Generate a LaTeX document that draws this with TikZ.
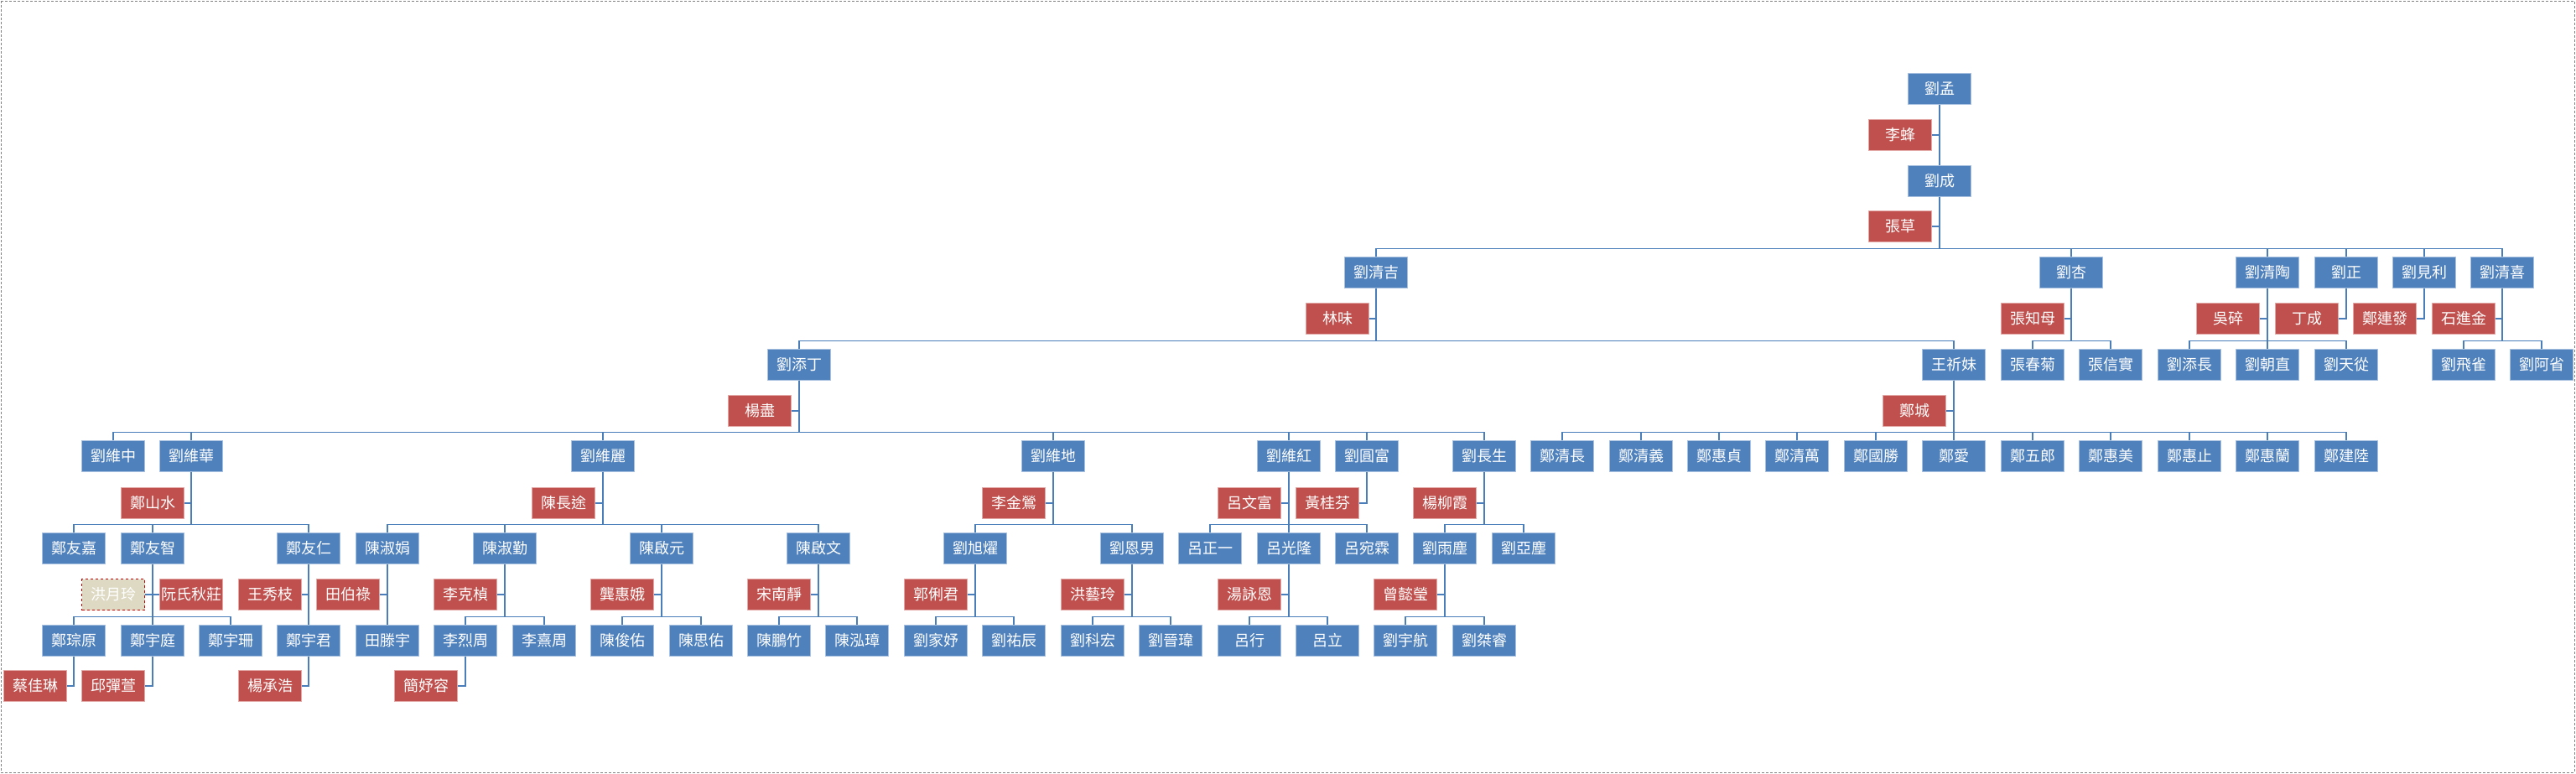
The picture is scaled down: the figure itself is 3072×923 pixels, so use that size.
\documentclass[tikz,border=0pt]{standalone}
\usepackage{fontspec}
\newfontfamily\cjk{Noto Sans CJK TC}
\definecolor{famblue}{HTML}{4F81BD}
\definecolor{famred}{HTML}{C0504D}
\definecolor{blueedge}{HTML}{A9C1E0}
\definecolor{rededge}{HTML}{E3A9A7}
\definecolor{linkblue}{HTML}{4A7EBB}
\definecolor{ghostfill}{HTML}{DDD9C3}
\definecolor{ghostedge}{HTML}{C00000}

\begin{document}
\begin{tikzpicture}[x=1pt,y=-1pt,
  person/.style={rectangle,fill=famblue,draw=blueedge,line width=0.8pt,text=white,
    minimum width=75pt,minimum height=37pt,inner sep=0pt,font=\cjk\fontsize{18}{18}\selectfont},
  spouse/.style={person,fill=famred,draw=rededge},
  ghost/.style={person,fill=ghostfill,draw=ghostedge,dashed,line width=1.6pt},
  link/.style={draw=linkblue,line width=1.6pt}]
\useasboundingbox (0,0) rectangle (3072,923);
\draw[gray,densely dashed] (1,1) rectangle (3070,921);

\node[person] (a) at (2313,106) {劉孟};
\node[spouse] (sa) at (2266,161) {李蜂};
\node[person] (b) at (2313,216) {劉成};
\node[spouse] (sb) at (2266,270) {張草};

\node[person] (c1) at (1641,325) {劉清吉};
\node[person] (c2) at (2470,325) {劉杏};
\node[person] (c3) at (2704,325) {劉清陶};
\node[person] (c4) at (2798,325) {劉正};
\node[person] (c5) at (2891,325) {劉見利};
\node[person] (c6) at (2984,325) {劉清喜};
\node[spouse] (sc1) at (1595,380) {林味};
\node[spouse] (sc2) at (2424,380) {張知母};
\node[spouse] (sc3) at (2657,380) {吳碎};
\node[spouse] (sc4) at (2751,380) {丁成};
\node[spouse] (sc5) at (2844,380) {鄭連發};
\node[spouse] (sc6) at (2938,380) {石進金};

\node[person] (d1) at (953,435) {劉添丁};
\node[person] (d2) at (2330,435) {王祈妹};
\node[person] (d3) at (2424,435) {張春菊};
\node[person] (d4) at (2517,435) {張信實};
\node[person] (d5) at (2611,435) {劉添長};
\node[person] (d6) at (2704,435) {劉朝直};
\node[person] (d7) at (2798,435) {劉天從};
\node[person] (d8) at (2938,435) {劉飛雀};
\node[person] (d9) at (3031,435) {劉阿省};
\node[spouse] (sd1) at (906,490) {楊盡};
\node[spouse] (sd2) at (2283,490) {鄭城};

\node[person] (e1) at (135,544) {劉維中};
\node[person] (e2) at (228,544) {劉維華};
\node[person] (e3) at (719,544) {劉維麗};
\node[person] (e4) at (1256,544) {劉維地};
\node[person] (e5) at (1537,544) {劉維紅};
\node[person] (e6) at (1630,544) {劉圓富};
\node[person] (e7) at (1770,544) {劉長生};
\node[person] (k1) at (1863,544) {鄭清長};
\node[person] (k2) at (1957,544) {鄭清義};
\node[person] (k3) at (2050,544) {鄭惠貞};
\node[person] (k4) at (2143,544) {鄭清萬};
\node[person] (k5) at (2237,544) {鄭國勝};
\node[person] (k6) at (2330,544) {鄭愛};
\node[person] (k7) at (2424,544) {鄭五郎};
\node[person] (k8) at (2517,544) {鄭惠美};
\node[person] (k9) at (2611,544) {鄭惠止};
\node[person] (k10) at (2704,544) {鄭惠蘭};
\node[person] (k11) at (2798,544) {鄭建陸};
\node[spouse] (se2) at (182,600) {鄭山水};
\node[spouse] (se3) at (672,600) {陳長途};
\node[spouse] (se4) at (1209,600) {李金鶯};
\node[spouse] (se5) at (1490,600) {呂文富};
\node[spouse] (se6) at (1583,600) {黃桂芬};
\node[spouse] (se7) at (1723,600) {楊柳霞};

\node[person] (f1) at (88,654) {鄭友嘉};
\node[person] (f2) at (182,654) {鄭友智};
\node[person] (f3) at (368,654) {鄭友仁};
\node[person] (f4) at (462,654) {陳淑娟};
\node[person] (f5) at (602,654) {陳淑勤};
\node[person] (f6) at (789,654) {陳啟元};
\node[person] (f7) at (976,654) {陳啟文};
\node[person] (f8) at (1163,654) {劉旭燿};
\node[person] (f9) at (1350,654) {劉恩男};
\node[person] (f10) at (1443,654) {呂正一};
\node[person] (f11) at (1537,654) {呂光隆};
\node[person] (f12) at (1630,654) {呂宛霖};
\node[person] (f13) at (1723,654) {劉雨塵};
\node[person] (f14) at (1817,654) {劉亞塵};
\node[ghost] (sf2) at (135,709) {洪月玲};
\node[spouse] (tf2) at (228,709) {阮氏秋莊};
\node[spouse] (sf3) at (322,709) {王秀枝};
\node[spouse] (sf4) at (415,709) {田伯祿};
\node[spouse] (sf5) at (555,709) {李克楨};
\node[spouse] (sf6) at (742,709) {龔惠娥};
\node[spouse] (sf7) at (929,709) {宋南靜};
\node[spouse] (sf8) at (1116,709) {郭俐君};
\node[spouse] (sf9) at (1303,709) {洪藝玲};
\node[spouse] (sf11) at (1490,709) {湯詠恩};
\node[spouse] (sf13) at (1676,709) {曾懿瑩};

\node[person] (g1) at (88,764) {鄭琮原};
\node[person] (g2) at (182,764) {鄭宇庭};
\node[person] (g3) at (275,764) {鄭宇珊};
\node[person] (g4) at (368,764) {鄭宇君};
\node[person] (g5) at (462,764) {田滕宇};
\node[person] (g6) at (555,764) {李烈周};
\node[person] (g7) at (649,764) {李熹周};
\node[person] (g8) at (742,764) {陳俊佑};
\node[person] (g9) at (836,764) {陳思佑};
\node[person] (g10) at (929,764) {陳鵬竹};
\node[person] (g11) at (1022,764) {陳泓璋};
\node[person] (g12) at (1116,764) {劉家妤};
\node[person] (g13) at (1209,764) {劉祐辰};
\node[person] (g14) at (1303,764) {劉科宏};
\node[person] (g15) at (1396,764) {劉晉瑋};
\node[person] (g16) at (1490,764) {呂行};
\node[person] (g17) at (1583,764) {呂立};
\node[person] (g18) at (1676,764) {劉宇航};
\node[person] (g19) at (1770,764) {劉桀睿};
\node[spouse] (sg1) at (42,818) {蔡佳琳};
\node[spouse] (sg2) at (135,818) {邱彈萱};
\node[spouse] (sg4) at (322,818) {楊承浩};
\node[spouse] (sg6) at (508,818) {簡妤容};

\foreach \p/\kids in {a/{b},b/{c1,c2,c3,c4,c5,c6},c1/{d1,d2},c2/{d3,d4},c3/{d5,d6,d7},c6/{d8,d9},
    d1/{e1,e2,e3,e4,e5,e6,e7},d2/{k1,k2,k3,k4,k5,k6,k7,k8,k9,k10,k11},
    e2/{f1,f2,f3},e3/{f4,f5,f6,f7},e4/{f8,f9},e5/{f10,f11,f12},e7/{f13,f14},
    f2/{g1,g2,g3},f3/{g4},f4/{g5},f5/{g6,g7},f6/{g8,g9},f7/{g10,g11},f8/{g12,g13},
    f9/{g14,g15},f11/{g16,g17},f13/{g18,g19}}
  \foreach \c in \kids
    \draw[link] (\p.south) |- ([yshift=9.5pt]\c.north) -- (\c.north);
\foreach \p in {a,b,c1,c2,c3,c4,c5,c6,d1,d2,e2,e3,e4,e5,e6,e7,f2,f3,f4,f5,f6,f7,f8,f9,f11,f13,g1,g2,g4,g6}
  \draw[link] (\p.south) |- (s\p.east);
\draw[link] (f2.south) |- (tf2.west);
\end{tikzpicture}
\end{document}
